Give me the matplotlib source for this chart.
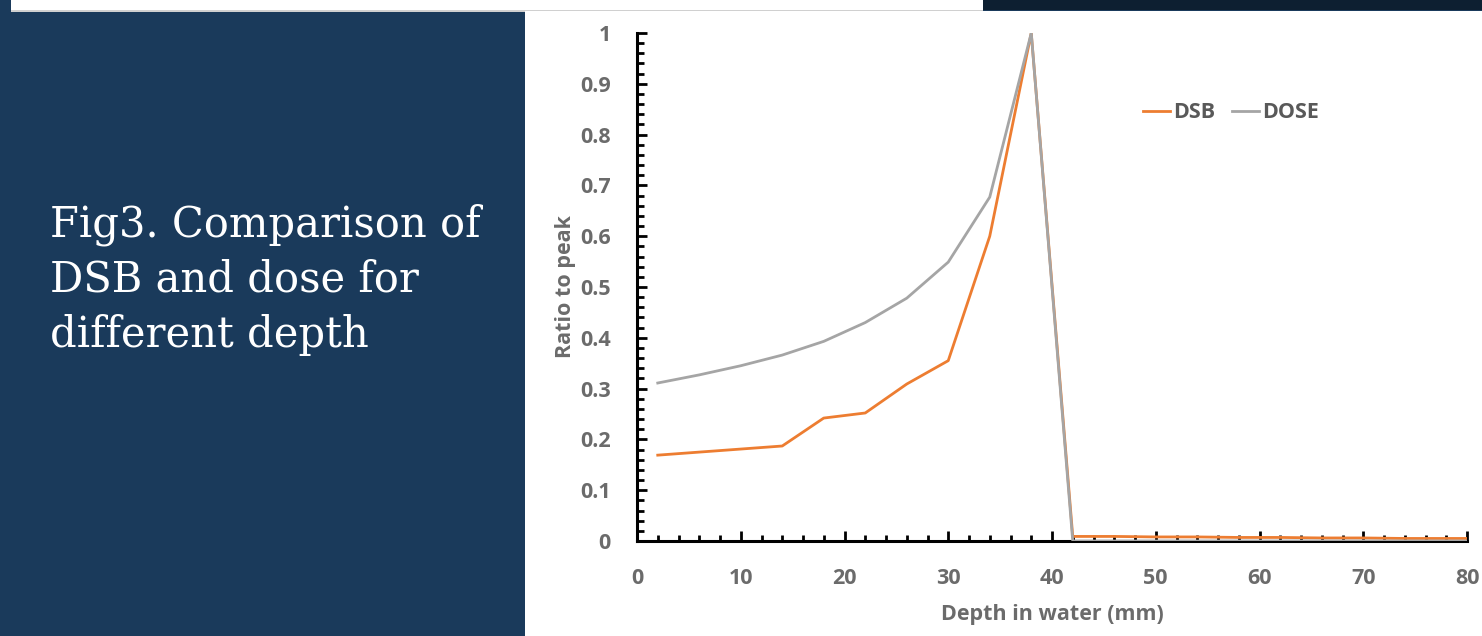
import matplotlib
matplotlib.use("Agg")
import matplotlib.pyplot as plt
from matplotlib.patches import Rectangle
from matplotlib.ticker import MultipleLocator
import numpy as np

# depth in water (mm) and ratio-to-peak values
depth = [2, 6, 10, 14, 18, 22, 26, 30, 34, 38, 42, 46, 50, 54, 58, 62, 66, 70, 74, 78, 80]
dsb = [0.169, 0.175, 0.181, 0.187, 0.242, 0.252, 0.309, 0.355, 0.60, 1.0,
       0.009, 0.009, 0.008, 0.008, 0.007, 0.007, 0.006, 0.006, 0.005, 0.005, 0.005]
dose = [0.311, 0.327, 0.345, 0.366, 0.393, 0.430, 0.478, 0.549, 0.677, 1.0,
        0.0, 0.0, 0.0, 0.0, 0.0, 0.0, 0.0, 0.0, 0.0, 0.0, 0.0]

yticks = np.round(np.arange(0, 1.01, 0.1), 1)
ytick_labels = ["0" if v == 0 else ("1" if v == 1 else "%.1f" % v) for v in yticks]
xticks = [0, 10, 20, 30, 40, 50, 60, 70, 80]

caption = ["Fig3. Comparison of", "DSB and dose for", "different depth"]

W, H = 1482, 636
fig = plt.figure(figsize=(W / 100, H / 100), dpi=100)
fig.patch.set_facecolor("#1a3a5b")

# slide background pieces
def px_rect(x0, y0, x1, y1, **kw):
    fig.patches.append(Rectangle((x0 / W, 1 - y1 / H), (x1 - x0) / W, (y1 - y0) / H,
                                 transform=fig.transFigure, figure=fig, zorder=-5, **kw))

px_rect(983, 0, W, 10, facecolor="#0d1f31", edgecolor="none")
px_rect(11, 0, 983, 10, facecolor="white", edgecolor="none")
px_rect(11, 10, 983, 11.5, facecolor="#d0d0d0", edgecolor="none")
px_rect(525, 11, W, H, facecolor="white", edgecolor="none")

# caption on the dark panel, one line per text (baselines 55 px apart)
for i, line in enumerate(caption):
    fig.text(50 / W, 1 - (237 + 55 * i) / H, line, color="white", fontsize=30,
             family="DejaVu Serif", va="baseline", ha="left")

ax = fig.add_axes([637 / W, 1 - 541 / H, (1467 - 637) / W, (541 - 33) / H])
ax.set_zorder(2)
ax.set_facecolor("white")
ax.plot(depth, dsb, color="#ED7D31", lw=2.0, label="DSB", zorder=3)
ax.plot(depth, dose, color="#A5A5A5", lw=2.0, label="DOSE", zorder=3)

ax.set_xlim(0, 80)
ax.set_ylim(0, 1)
for s in ["top", "right"]:
    ax.spines[s].set_visible(False)
for s in ["left", "bottom"]:
    ax.spines[s].set_linewidth(2.2)
    ax.spines[s].set_color("black")
    ax.spines[s].set_zorder(2)

ax.set_yticks(yticks)
ax.set_yticklabels(ytick_labels)
ax.set_xticks(xticks)
ax.yaxis.set_minor_locator(MultipleLocator(0.02))
ax.xaxis.set_minor_locator(MultipleLocator(2))
ax.tick_params(axis="y", which="major", direction="in", length=7, width=2, pad=19,
               labelsize=15.5, labelcolor="#6b6b6b")
ax.tick_params(axis="y", which="minor", direction="in", length=5, width=2)
ax.tick_params(axis="x", which="major", direction="in", length=7, width=2, pad=19.5,
               labelsize=15.5, labelcolor="#6b6b6b")
ax.tick_params(axis="x", which="minor", direction="in", length=4, width=2)
for lab in ax.get_xticklabels() + ax.get_yticklabels():
    lab.set_fontweight("bold")
    lab.set_family("Open Sans")

ax.set_xlabel("Depth in water (mm)", fontsize=15.5, fontweight="bold", color="#6b6b6b",
              family="Open Sans", labelpad=11)
ax.set_ylabel("Ratio to peak", fontsize=15.5, fontweight="bold", color="#6b6b6b",
              family="Open Sans", labelpad=3)

leg = ax.legend(loc="center left", bbox_to_anchor=(1124 / W, 1 - 113 / H),
                bbox_transform=fig.transFigure, ncol=2, frameon=False,
                handlelength=1.25, handletextpad=0.15, columnspacing=0.75,
                prop={"family": "Open Sans", "weight": "bold", "size": 15.5})
for t in leg.get_texts():
    t.set_color("#595959")

fig.savefig("out.png", dpi=100, facecolor=fig.get_facecolor())
